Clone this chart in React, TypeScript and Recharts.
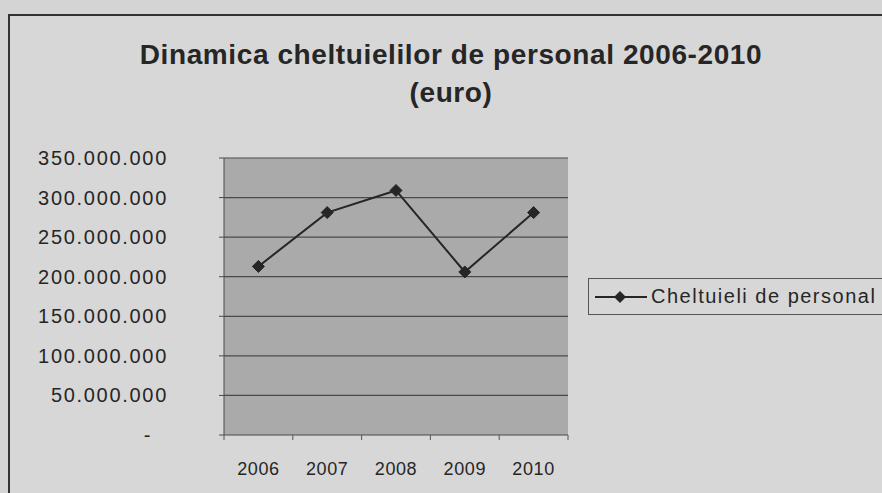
import { LineChart, Line, XAxis, YAxis, CartesianGrid } from "recharts";

const TITLE_LINES = ["Dinamica cheltuielilor de personal 2006-2010", "(euro)"];
const SERIES_NAME = "Cheltuieli de personal";
const YEARS = ["2006", "2007", "2008", "2009", "2010"];
const CHELTUIELI = [213000000, 281000000, 309000000, 206000000, 281000000];
const Y_TICKS = [0, 50000000, 100000000, 150000000, 200000000, 250000000, 300000000, 350000000];

const data = YEARS.map((year, i) => ({ year, value: CHELTUIELI[i] }));

const W = 882;
const H = 493;
const PLOT_LEFT = 224;
const PLOT_RIGHT = 568;
const PLOT_TOP = 158;
const PLOT_BOTTOM = 435;
const BOTTOM_MARGIN = 18;
const HALF_BAND = (PLOT_RIGHT - PLOT_LEFT) / YEARS.length / 2;
const INK = "#262626";
const GRID = "#4a4a4a";
const FONT = "'Liberation Sans', Arial, sans-serif";

function fmt(v: number) {
  if (v === 0) return "-";
  return String(v).replace(/\B(?=(\d{3})+(?!\d))/g, ".");
}

function YTick(props: any) {
  const { x, y, payload } = props;
  const zero = payload.value === 0;
  return (
    <text
      x={zero ? x - 16 : x}
      y={y}
      dy={7}
      textAnchor="end"
      fill={INK}
      fontSize={20}
      letterSpacing={1.7}
      fontFamily={FONT}
    >
      {fmt(payload.value)}
    </text>
  );
}

function XTick(props: any) {
  const { x, y, payload, index } = props;
  return (
    <g>
      {index === 0 && <line x1={x - HALF_BAND} x2={x - HALF_BAND} y1={y} y2={y + 5} stroke="#555" />}
      <line x1={x + HALF_BAND} x2={x + HALF_BAND} y1={y} y2={y + 5} stroke="#555" />
      <text x={x} y={y + 40} textAnchor="middle" fill={INK} fontSize={18} letterSpacing={0.6} fontFamily={FONT}>
        {payload.value}
      </text>
    </g>
  );
}

function Diamond(props: any) {
  const { cx, cy } = props;
  if (cx == null || cy == null) return null;
  const r = 6;
  return (
    <polygon
      points={`${cx},${cy - r} ${cx + r},${cy} ${cx},${cy + r} ${cx - r},${cy}`}
      fill={INK}
      stroke={INK}
    />
  );
}

function LegendBox() {
  return (
    <div
      style={{
        position: "absolute",
        left: 588,
        top: 278,
        width: 320,
        height: 37,
        border: "1px solid #555",
        display: "flex",
        alignItems: "center",
        fontFamily: FONT,
        fontSize: 20,
        letterSpacing: 1.5,
        color: INK,
        boxSizing: "border-box",
      }}
    >
      <svg width={62} height={20} style={{ flex: "none" }}>
        <line x1={6} x2={58} y1={10} y2={10} stroke={INK} strokeWidth={2} />
        <polygon points="31,4 37,10 31,16 25,10" fill={INK} />
      </svg>
      <span style={{ whiteSpace: "nowrap" }}>{SERIES_NAME}</span>
    </div>
  );
}

export default function App() {
  return (
    <div
      style={{
        position: "absolute",
        left: 0,
        top: 0,
        width: W,
        height: H,
        overflow: "hidden",
        background: "#d4d4d4",
        fontFamily: FONT,
      }}
    >
      <div
        style={{
          position: "absolute",
          left: 8,
          top: 14,
          width: 920,
          height: 520,
          borderTop: "2px solid #333",
          borderLeft: "2px solid #333",
          background: "#d7d7d7",
        }}
      />
      {TITLE_LINES.map((t, i) => (
        <div
          key={t}
          style={{
            position: "absolute",
            left: 0,
            width: 902,
            top: 38 + i * 38,
            textAlign: "center",
            fontWeight: "bold",
            fontSize: 28,
            letterSpacing: 0.6,
            lineHeight: "34px",
            color: INK,
          }}
        >
          {t}
        </div>
      ))}
      <div style={{ position: "absolute", left: 0, top: 0 }}>
        <LineChart
          width={W}
          height={H}
          data={data}
          margin={{ top: PLOT_TOP, right: W - PLOT_RIGHT, bottom: BOTTOM_MARGIN, left: 0 }}
        >
          <CartesianGrid vertical={false} fill="#aaaaaa" fillOpacity={1} stroke={GRID} strokeWidth={1.2} />
          <XAxis
            dataKey="year"
            height={H - BOTTOM_MARGIN - PLOT_BOTTOM}
            padding={{ left: HALF_BAND, right: HALF_BAND }}
            axisLine={false}
            tickLine={false}
            tickSize={0}
            tickMargin={0}
            tick={<XTick />}
            interval={0}
          />
          <YAxis
            width={PLOT_LEFT}
            domain={[0, 350000000]}
            ticks={Y_TICKS}
            interval={0}
            axisLine={{ stroke: GRID }}
            tickLine={{ stroke: GRID }}
            tickSize={5}
            tickMargin={51}
            tick={<YTick />}
          />
          <YAxis
            yAxisId="right"
            orientation="right"
            width={0}
            domain={[0, 350000000]}
            axisLine={{ stroke: GRID }}
            tick={false}
            tickLine={false}
          />
          <Line
            dataKey="value"
            name={SERIES_NAME}
            stroke={INK}
            strokeWidth={2}
            dot={<Diamond />}
            activeDot={false}
            isAnimationActive={false}
          />
        </LineChart>
      </div>
      <LegendBox />
    </div>
  );
}
